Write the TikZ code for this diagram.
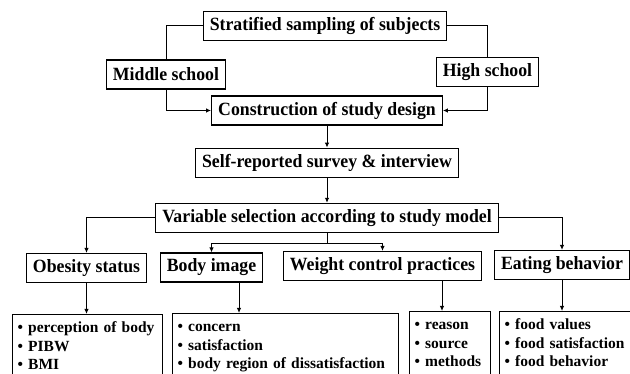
\documentclass[tikz,border=0pt]{standalone}
\usepackage{fontspec}
\setmainfont{Liberation Serif}
\newfontfamily\boxfont{Liberation Serif}[FakeStretch=0.95]
\usetikzlibrary{arrows.meta, positioning}

\begin{document}
\begin{tikzpicture}[
    x=1pt, y=1pt,
    box/.style={draw, line width=1.2pt, inner xsep=6.5pt, inner ysep=0pt,
                minimum height=29pt, font=\boxfont\bfseries\fontsize{18.7}{21}\selectfont},
    listbox/.style={draw, line width=1.2pt, anchor=north west, align=left,
                inner sep=5pt, font=\bfseries\fontsize{15.5}{18.5}\selectfont},
    arrow/.style={-{Latex[length=5pt,width=4.5pt]}, line width=1pt},
    link/.style={line width=1pt}
  ]
  \useasboundingbox (0,0) rectangle (630,-374);
  \clip (0,0) rectangle (630,-374);

  % Nodes
  \node[box] (strat)  at (325,-26)   {Stratified sampling of subjects};
  \node[box] (middle) at (166,-74.5) {Middle school};
  \node[box] (high)   at (487.5,-72) {High school};
  \node[box] (construct) at (327,-110.5) {Construction of study design};
  \node[box, below=22pt of construct] (survey) {Self-reported survey \& interview};
  \node[box, below=25pt of survey] (variable) {Variable selection according to study model};

  \node[box] (obesity) at (86.5,-268)  {Obesity status};
  \node[box] (body)    at (211.5,-267.5) {Body image};
  \node[box] (weight)  at (382.5,-266) {Weight control practices};
  \node[box] (eating)  at (562,-265)   {Eating behavior};

  \node[listbox, text width=140pt] (listobes) at (12,-314)
        {\strut\textbullet\ perception of body\\\strut\textbullet\ PIBW\\\strut\textbullet\ BMI};
  \node[listbox, text width=216pt] (listbody) at (172,-313)
        {\strut\textbullet\ concern\\\strut\textbullet\ satisfaction\\\strut\textbullet\ body region of dissatisfaction};
  \node[listbox, text width=71pt] (listweight) at (409,-311)
        {\strut\textbullet\ reason\\\strut\textbullet\ source\\\strut\textbullet\ methods};
  \node[listbox, text width=126pt] (listeat) at (499,-311)
        {\strut\textbullet\ food values\\\strut\textbullet\ food satisfaction\\\strut\textbullet\ food behavior};

  % Arrows: sampling -> design
  \draw[link]  (strat.west) -| (middle.north);
  \draw[link]  (strat.east) -| (high.north);
  \draw[arrow] (middle.south) |- (construct.west);
  \draw[arrow] (high.south) |- (construct.east);
  \draw[arrow] (construct) -- (survey);
  \draw[arrow] (survey) -- (variable);

  % Arrows: variables
  \coordinate[below=11pt of variable.south] (fork);
  \draw[arrow] (variable.west) -| (obesity.north);
  \draw[arrow] (variable.east) -| (eating.north);
  \draw[link]  (variable.south) -- (fork);
  \draw[arrow] (fork) -| (body.north);
  \draw[arrow] (fork) -| (weight.north);

  % Arrows: variables -> items
  \coordinate (bodyout)   at ([xshift=27.5pt]body.south);
  \coordinate (weightout) at ([xshift=59.5pt]weight.south);
  \draw[arrow] (obesity.south) -- (obesity.south |- listobes.north);
  \draw[arrow] (bodyout) -- (bodyout |- listbody.north);
  \draw[arrow] (weightout) -- (weightout |- listweight.north);
  \draw[arrow] (eating.south) -- (eating.south |- listeat.north);
\end{tikzpicture}
\end{document}
